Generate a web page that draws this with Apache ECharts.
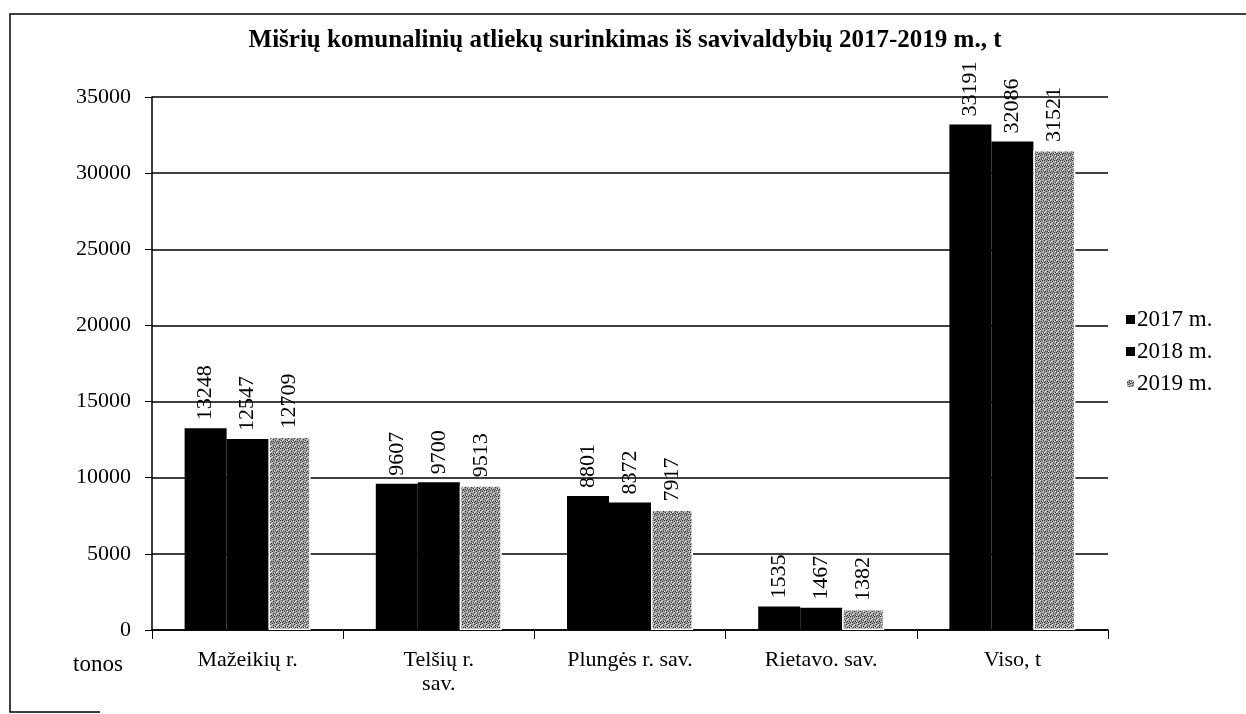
<!DOCTYPE html>
<html>
<head>
<meta charset="utf-8">
<script src="https://cdn.jsdelivr.net/npm/echarts@6/dist/echarts.min.js"></script>
<style>
  html, body { margin: 0; padding: 0; background: #fff; }
  #chart { width: 1246px; height: 714px; }
</style>
</head>
<body>
<div id="chart"></div>
<script>
var chart = echarts.init(document.getElementById('chart'));

var categories = ['Mažeikių r.', 'Telšių r.\nsav.', 'Plungės r. sav.', 'Rietavo. sav.', 'Viso, t'];
var years = ['2017 m.', '2018 m.', '2019 m.'];
var data2017 = [13248, 9607, 8801, 1535, 33191];
var data2018 = [12547, 9700, 8372, 1467, 32086];
var data2019 = [12709, 9513, 7917, 1382, 31521];
var yTicks = [0, 5000, 10000, 15000, 20000, 25000, 30000, 35000];

// grey speckled fill for 2019 (fixed pattern)
function makePattern() {
    var c = document.createElement('canvas');
    c.width = 6; c.height = 6;
    var ctx = c.getContext('2d');
    ctx.fillStyle = '#9c9c9c';
    ctx.fillRect(0, 0, 6, 6);
    ctx.fillStyle = '#3a3a3a';
    var dots = [[0,0],[3,1],[1,3],[4,4],[2,5],[5,2],[0,4],[3,3]];
    dots.forEach(function (d) { ctx.fillRect(d[0], d[1], 1, 1); });
    ctx.fillStyle = '#e4e4e4';
    [[2,0],[5,5],[1,1],[4,3],[0,2]].forEach(function (d) { ctx.fillRect(d[0], d[1], 1, 1); });
    return c;
}

var serif = '"Liberation Serif", "DejaVu Serif", serif';

var labelStyle = {
    show: true,
    position: 'top',
    rotate: 90,
    align: 'left',
    verticalAlign: 'middle',
    distance: 8,
    fontFamily: serif,
    fontSize: 22,
    color: '#000'
};

var option = {
    backgroundColor: '#fff',
    animation: false,
    title: {
        text: 'Mišrių komunalinių atliekų surinkimas iš savivaldybių 2017-2019 m., t',
        left: 620,
        textAlign: 'center',
        top: 23,
        textStyle: { fontFamily: serif, fontSize: 25, fontWeight: 'bold', color: '#000' }
    },
    legend: {
        orient: 'vertical',
        left: 1120,
        top: 303,
        icon: 'rect',
        itemWidth: 9,
        itemHeight: 9,
        itemGap: 9,
        textStyle: { fontFamily: serif, fontSize: 23, color: '#000', padding: [0, 0, 0, -3] },
        data: years
    },
    grid: { left: 152, right: 138, top: 97, bottom: 84 },
    xAxis: {
        type: 'category',
        data: categories,
        axisLine: { lineStyle: { color: '#000', width: 1.5 } },
        axisTick: { show: true, length: 9, lineStyle: { color: '#000' } },
        axisLabel: { fontFamily: serif, fontSize: 22, color: '#000', margin: 18, lineHeight: 24 }
    },
    yAxis: {
        type: 'value',
        min: yTicks[0],
        max: yTicks[yTicks.length - 1],
        interval: 5000,
        axisLine: { show: true, lineStyle: { color: '#000', width: 1.5 } },
        axisTick: { show: true, length: 7, lineStyle: { color: '#000' } },
        axisLabel: {
            fontFamily: serif, fontSize: 22, color: '#000', margin: 21,
            formatter: function (v) { return String(v); }
        },
        splitLine: { lineStyle: { color: '#000', width: 1.5 } }
    },
    series: [{
        name: years[0],
        type: 'bar',
        barWidth: 42,
        barGap: '0%',
        itemStyle: { color: '#000' },
        label: labelStyle,
        data: data2017
    }, {
        name: years[1],
        type: 'bar',
        barWidth: 42,
        itemStyle: { color: '#000' },
        label: labelStyle,
        data: data2018
    }, {
        name: years[2],
        type: 'bar',
        barWidth: 42,
        itemStyle: { color: { image: makePattern(), repeat: 'repeat' }, borderColor: '#fff', borderWidth: 1.5 },
        label: labelStyle,
        data: data2019
    }],
    graphic: [{
        type: 'text',
        left: 73,
        top: 653,
        style: { text: 'tonos', fontFamily: serif, fontSize: 23, fill: '#000' }
    }, {
        type: 'polyline',
        shape: { points: [[1246, 14], [10, 14], [10, 712], [100, 712]] },
        style: { stroke: '#000', lineWidth: 1.5, fill: null }
    }]
};

chart.setOption(option);
</script>
</body>
</html>
